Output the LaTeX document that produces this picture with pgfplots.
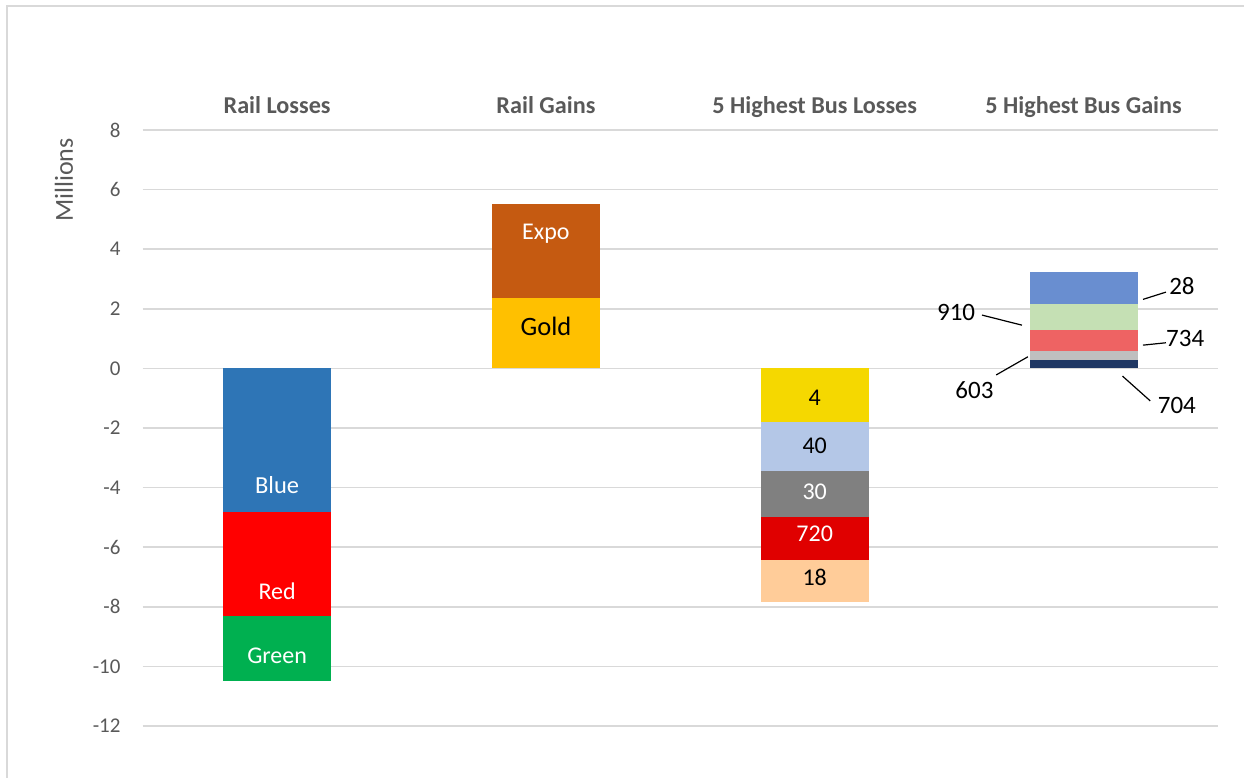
\documentclass[border=0pt]{standalone}
\usepackage{fontspec}
\setmainfont{Carlito}
\usepackage{pgfplots}
\pgfplotsset{compat=1.18}
\definecolor{tickgray}{HTML}{595959}
\definecolor{gridgray}{HTML}{D9D9D9}
\definecolor{cBlue}{HTML}{2E75B6}
\definecolor{cRed}{HTML}{FF0000}
\definecolor{cGreen}{HTML}{00B050}
\definecolor{cGold}{HTML}{FFC000}
\definecolor{cExpo}{HTML}{C55A11}
\definecolor{cFour}{HTML}{F5D800}
\definecolor{cForty}{HTML}{B4C7E7}
\definecolor{cThirty}{HTML}{808080}
\definecolor{cSevTw}{HTML}{E00000}
\definecolor{cEight}{HTML}{FFCC99}
\definecolor{cSevFo}{HTML}{203864}
\definecolor{cSixTh}{HTML}{BFBFBF}
\definecolor{cSevTF}{HTML}{EE6363}
\definecolor{cNineT}{HTML}{C5E0B4}
\definecolor{cTwEi}{HTML}{698ED0}
\begin{document}
\begin{tikzpicture}
\begin{axis}[
  scale only axis, width=1075.3pt, height=596pt,
  xmin=-0.5, xmax=3.5, ymin=-12, ymax=8,
  ybar stacked, bar width=108pt,
  xtick={0,1,2,3},
  xticklabels={Rail Losses, Rail Gains, 5 Highest Bus Losses, 5 Highest Bus Gains},
  xticklabel pos=upper,
  xticklabel style={font=\fontsize{24.2}{28}\selectfont\bfseries, text=tickgray, anchor=base, inner sep=0pt, yshift=16.7pt},
  ytick={-12,-10,...,8},
  yticklabel style={font=\fontsize{21}{24}\selectfont, text=tickgray, inner sep=0pt, xshift=-22pt},
  /pgf/number format/assume math mode=true,
  ymajorgrids, major grid style={gridgray, line width=1.5pt},
  axis line style={draw=none}, major tick length=0pt,
  clip=false,
]
\addplot[fill=cBlue, draw=none] coordinates {(0,-4.82) (1,0) (2,0) (3,0)};
\addplot[fill=cRed, draw=none] coordinates {(0,-3.49) (1,0) (2,0) (3,0)};
\addplot[fill=cGreen, draw=none] coordinates {(0,-2.17) (1,0) (2,0) (3,0)};
\addplot[fill=cGold, draw=none] coordinates {(0,0) (1,2.36) (2,0) (3,0)};
\addplot[fill=cExpo, draw=none] coordinates {(0,0) (1,3.15) (2,0) (3,0)};
\addplot[fill=cFour, draw=none] coordinates {(0,0) (1,0) (2,-1.80) (3,0)};
\addplot[fill=cForty, draw=none] coordinates {(0,0) (1,0) (2,-1.64) (3,0)};
\addplot[fill=cThirty, draw=none] coordinates {(0,0) (1,0) (2,-1.53) (3,0)};
\addplot[fill=cSevTw, draw=none] coordinates {(0,0) (1,0) (2,-1.45) (3,0)};
\addplot[fill=cEight, draw=none] coordinates {(0,0) (1,0) (2,-1.43) (3,0)};
\addplot[fill=cSevFo, draw=none] coordinates {(0,0) (1,0) (2,0) (3,0.29)};
\addplot[fill=cSixTh, draw=none] coordinates {(0,0) (1,0) (2,0) (3,0.30)};
\addplot[fill=cSevTF, draw=none] coordinates {(0,0) (1,0) (2,0) (3,0.69)};
\addplot[fill=cNineT, draw=none] coordinates {(0,0) (1,0) (2,0) (3,0.87)};
\addplot[fill=cTwEi, draw=none] coordinates {(0,0) (1,0) (2,0) (3,1.07)};

\coordinate (lBlue) at (axis cs:0,-3.92);
\coordinate (lRed) at (axis cs:0,-7.47);
\coordinate (lGreen) at (axis cs:0,-9.65);
\coordinate (lExpo) at (axis cs:1,4.53);
\coordinate (lGold) at (axis cs:1,1.40);
\coordinate (lFour) at (axis cs:2,-0.99);
\coordinate (lForty) at (axis cs:2,-2.61);
\coordinate (lThirty) at (axis cs:2,-4.14);
\coordinate (lSevTw) at (axis cs:2,-5.56);
\coordinate (lEight) at (axis cs:2,-7.01);

\node[black, font=\fontsize{25}{29}\selectfont] at (axis cs:3.366,2.76) {28};
\node[black, font=\fontsize{25}{29}\selectfont] at (axis cs:3.378,1.01) {734};
\node[black, font=\fontsize{25}{29}\selectfont] at (axis cs:3.347,-1.23) {704};
\node[black, font=\fontsize{25}{29}\selectfont] at (axis cs:2.526,1.87) {910};
\node[black, font=\fontsize{25}{29}\selectfont] at (axis cs:2.594,-0.73) {603};
\draw[black, line width=1.2pt] (axis cs:3.221,2.315) -- (axis cs:3.3065,2.56);
\draw[black, line width=1.2pt] (axis cs:3.221,0.78) -- (axis cs:3.3065,0.86);
\draw[black, line width=1.2pt] (axis cs:3.145,-0.26) -- (axis cs:3.248,-1.09);
\draw[black, line width=1.2pt] (axis cs:2.622,1.79) -- (axis cs:2.771,1.45);
\draw[black, line width=1.2pt] (axis cs:2.675,-0.22) -- (axis cs:2.793,0.39);

\node[rotate=90, text=tickgray, font=\fontsize{26}{30}\selectfont] at ([xshift=-78.7pt]axis cs:-0.5,6.32) {Millions};
\end{axis}
\node[white, font=\fontsize{24.5}{28}\selectfont] at (lBlue) {Blue};
\node[white, font=\fontsize{24}{28}\selectfont] at (lRed) {Red};
\node[white, font=\fontsize{24}{28}\selectfont] at (lGreen) {Green};
\node[white, font=\fontsize{24}{28}\selectfont] at (lExpo) {Expo};
\node[black, font=\fontsize{26.5}{30}\selectfont] at (lGold) {Gold};
\node[black, font=\fontsize{24}{28}\selectfont] at (lFour) {4};
\node[black, font=\fontsize{24}{28}\selectfont] at (lForty) {40};
\node[white, font=\fontsize{24}{28}\selectfont] at (lThirty) {30};
\node[white, font=\fontsize{24}{28}\selectfont] at (lSevTw) {720};
\node[black, font=\fontsize{24}{28}\selectfont] at (lEight) {18};
\pgfresetboundingbox
\path[use as bounding box] (-142.7pt,-52pt) rectangle (1101.3pt,726pt);
\draw[gridgray, line width=1.8pt] (-135.7pt,-52pt) -- (-135.7pt,720pt) -- (1101.3pt,720pt);
\end{tikzpicture}
\end{document}
